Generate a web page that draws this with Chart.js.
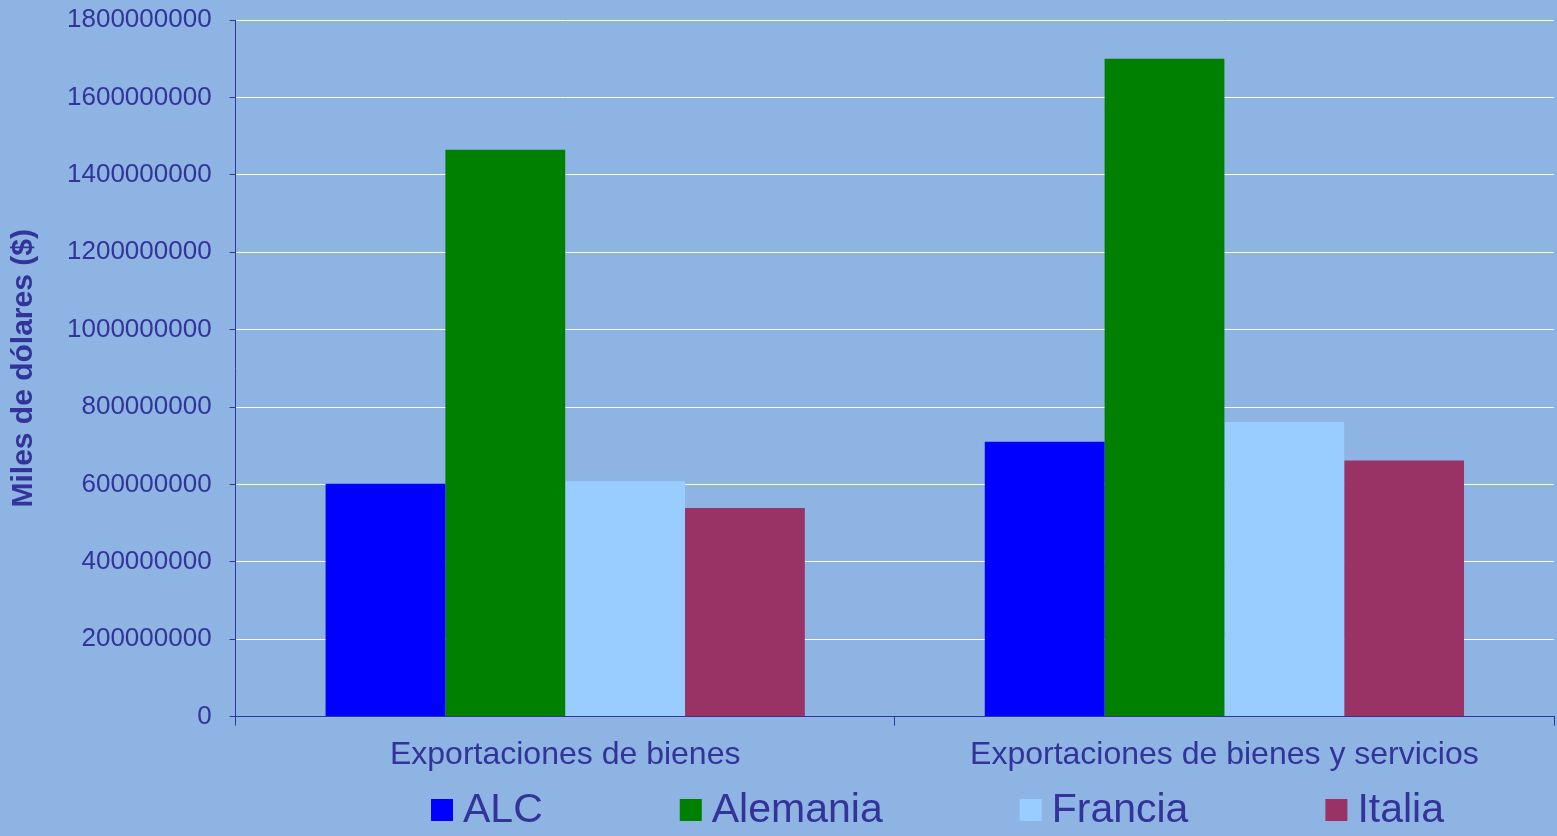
<!DOCTYPE html>
<html>
<head>
<meta charset="utf-8">
<script src="https://cdn.jsdelivr.net/npm/chart.js@4"></script>
<style>
  html, body { margin: 0; padding: 0; background: #8eb4e3; }
  #wrap { width: 1557px; height: 836px; }
</style>
</head>
<body>
<div id="wrap"><canvas id="bar-chart"></canvas></div>
<script>
const categories = ["Exportaciones de bienes", "Exportaciones de bienes y servicios"];
const seriesNames = ["ALC", "Alemania", "Francia", "Italia"];
const alc = [602000000, 710000000];
const alemania = [1465000000, 1700000000];
const francia = [608000000, 761000000];
const italia = [539000000, 662000000];
const yTicks = [0, 200000000, 400000000, 600000000, 800000000, 1000000000,
  1200000000, 1400000000, 1600000000, 1800000000];

const textColor = "#333399";
const colors = ["#0000ff", "#008000", "#99ccff", "#993366"];

// legend drawn by hand so it sits where the original one does
const bottomLegend = {
  id: "bottomLegend",
  afterDraw(chart) {
    const ctx = chart.ctx;
    ctx.save();
    ctx.font = "41px 'Liberation Sans', Arial, sans-serif";
    ctx.textBaseline = "alphabetic";
    let x = 431;
    chart.data.datasets.forEach((ds) => {
      ctx.fillStyle = ds.backgroundColor;
      ctx.fillRect(x, 799, 22, 22);
      ctx.fillStyle = textColor;
      ctx.fillText(ds.label, x + 32, 822);
      x += 32 + ctx.measureText(ds.label).width + 137;
    });
    ctx.restore();
  },
};

const bar = document.getElementById("bar-chart").getContext("2d");
Chart.defaults.font.family = "'Liberation Sans', Arial, sans-serif";
Chart.defaults.color = textColor;

const barChart = new Chart(bar, {
  type: "bar",
  data: {
    labels: categories,
    datasets: [alc, alemania, francia, italia].map((d, i) => ({
      label: seriesNames[i],
      data: d,
      backgroundColor: colors[i],
      borderWidth: 0,
      barPercentage: 1.0,
      categoryPercentage: 0.727,
    })),
  },
  options: {
    responsive: true,
    maintainAspectRatio: false,
    animation: false,
    layout: { padding: { top: 20, right: 3, bottom: 52, left: 0 } },
    plugins: {
      legend: { display: false },
      tooltip: { enabled: false },
    },
    scales: {
      x: {
        offset: true,
        grid: {
          display: true,
          offset: true,
          drawOnChartArea: false,
          tickLength: 9,
          tickColor: textColor,
        },
        border: { color: textColor, width: 1 },
        ticks: {
          font: { size: 32 },
          color: textColor,
          padding: 10,
          maxRotation: 0,
        },
      },
      y: {
        min: 0,
        max: 1800000000,
        afterBuildTicks(axis) {
          axis.ticks = yTicks.map((v) => ({ value: v }));
        },
        afterFit(axis) {
          // the big tick padding should not push the plot down
          axis.paddingTop = 0;
          axis.paddingBottom = 0;
        },
        grid: {
          color: "#ffffff",
          lineWidth: 1,
          tickLength: 6,
          tickColor: textColor,
        },
        border: { color: textColor, width: 1 },
        ticks: {
          font: { size: 26 },
          color: textColor,
          padding: 18,
          callback: (v) => String(v),
        },
        title: {
          display: true,
          text: "Miles de dólares ($)",
          color: textColor,
          font: { size: 30, weight: "bold" },
          padding: { top: 6, bottom: 7 },
        },
      },
    },
  },
  plugins: [bottomLegend],
});
</script>
</body>
</html>
